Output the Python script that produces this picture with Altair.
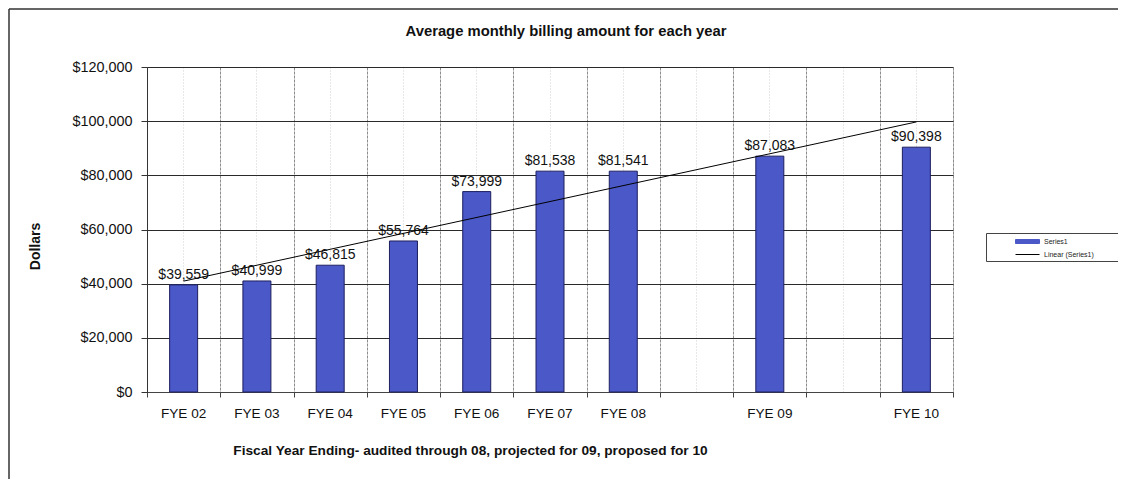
import altair as alt
import pandas as pd

FONT = "Liberation Sans"

# ---- data ----
categories = ["FYE 02", "FYE 03", "FYE 04", "FYE 05", "FYE 06", "FYE 07", "FYE 08", "FYE 09", "FYE 10"]
values = [39559, 40999, 46815, 55764, 73999, 81538, 81541, 87083, 90398]
slot_index = [0, 1, 2, 3, 4, 5, 6, 8, 10]          # category slot on the axis (blank slots between 08/09/10)
axis_slots = ["FYE 02", "FYE 03", "FYE 04", "FYE 05", "FYE 06", "FYE 07", "FYE 08", " ", "FYE 09", "  ", "FYE 10"]
slot_edges = [-0.5, 0.5, 1.5, 2.5, 3.5, 4.5, 5.5, 6.5, 7.5, 8.5, 9.5, 10.5]
y_ticks = [0, 20000, 40000, 60000, 80000, 100000, 120000]
series_names = ["Series1", "Linear (Series1)"]

df = pd.DataFrame({"cat": categories, "value": values, "pos": slot_index, "series": series_names[0]})

W, H = 806, 325
PAD_L, PAD_T = 139, 59
TOTAL_W, TOTAL_H = 1110, 471

BAR_FILL = "#4a58c8"
BAR_STROKE = "#1d1f5e"

color_scale = alt.Scale(domain=series_names, range=[BAR_FILL, "#000000"])
legend = alt.Legend(
    title=" ", titleOrient="right", titlePadding=24, titleFontSize=6,
    orient="none", legendX=839, legendY=166,
    strokeColor="#444444", padding=3, fillColor="white",
    labelFont=FONT, labelFontSize=7, labelColor="#222222",
    symbolSize=100, symbolOffset=33, labelOffset=11, rowPadding=3,
    symbolStrokeWidth=1,
    symbolType={"expr": "datum.value === 'Series1' ? 'M-2.4,-0.4H2.4V0.4H-2.4Z' : 'M-2.4,0H2.4'"},
)

x_band = alt.X(
    "cat:N",
    scale=alt.Scale(domain=axis_slots, paddingInner=0, paddingOuter=0),
    sort=axis_slots,
    axis=alt.Axis(
        orient="bottom",
        title="Fiscal Year Ending- audited through 08, projected for 09, proposed for 10",
        titleFont=FONT, titleFontSize=13.7, titleFontWeight="bold", titleColor="#111111",
        titleX=323, titleY=62, titleAlign="center", titleBaseline="alphabetic",
        labelFont=FONT, labelFontSize=13.6, labelColor="#111111", labelAngle=0, labelPadding=14,
        ticks=False, domain=False,
        grid=True, gridColor="#d0d0d0", gridDash=[1, 2], gridWidth=1,
    ),
)

y_enc = alt.Y(
    "value:Q",
    scale=alt.Scale(domain=[0, 120000], nice=False),
    axis=alt.Axis(
        values=y_ticks, format="$,d",
        title="Dollars", titleFont=FONT, titleFontSize=14, titleFontWeight="bold", titleColor="#111111",
        titleAngle=-90, titleX=-112, titleY=179, titleAlign="center", titleBaseline="middle",
        labelFont=FONT, labelFontSize=14.4, labelColor="#111111", labelPadding=9,
        tickSize=6, tickColor="#333333", domainColor="#333333",
        grid=True, gridColor="#2a2a2a", gridWidth=1,
    ),
)

bars = alt.Chart(df).mark_bar(size=28, stroke=BAR_STROKE, strokeWidth=1).encode(
    x=x_band,
    y=y_enc,
    color=alt.Color("series:N", scale=color_scale, legend=legend),
)

labels = alt.Chart(df).mark_text(
    font=FONT, fontSize=14, color="#111111", baseline="alphabetic", dy=-6
).encode(
    x=alt.X("cat:N", sort=axis_slots),
    y="value:Q",
    text=alt.Text("value:Q", format="$,d"),
)

band_layer = alt.layer(bars, labels)

trend = alt.Chart(df).transform_regression("pos", "value").transform_calculate(
    series="'Linear (Series1)'"
).mark_line(strokeWidth=1).encode(
    x=alt.X(
        "pos:Q",
        scale=alt.Scale(domain=[-0.5, 10.5], nice=False, zero=False),
        axis=alt.Axis(
            orient="bottom", values=slot_edges, labels=False, title=None,
            ticks=True, tickSize=5, tickColor="#444444", domainColor="#444444",
            grid=True, gridColor="#8c8c8c", gridDash=[3, 1], gridWidth=1,
        ),
    ),
    y=alt.Y("value:Q"),
    color=alt.Color("series:N", scale=color_scale, legend=legend),
)

frame_df = pd.DataFrame({"a": [0]})
frame_left = alt.Chart(frame_df).mark_rule(color="#333333", strokeWidth=1.5).encode(
    x=alt.value(-PAD_L + 1), y=alt.value(-PAD_T + 1), y2=alt.value(TOTAL_H - PAD_T)
)
frame_top = alt.Chart(frame_df).mark_rule(color="#333333", strokeWidth=1.5).encode(
    x=alt.value(-PAD_L + 1), x2=alt.value(TOTAL_W - PAD_L), y=alt.value(-PAD_T + 1)
)

chart = alt.layer(band_layer, trend, frame_left, frame_top).resolve_scale(x="independent").properties(
    width=W, height=H,
    padding={"left": PAD_L, "top": PAD_T, "right": TOTAL_W - PAD_L - W, "bottom": TOTAL_H - PAD_T - H},
    autosize=alt.AutoSizeParams(type="none"),
    title=alt.TitleParams(
        "Average monthly billing amount for each year",
        font=FONT, fontSize=14.8, fontWeight="bold", color="#111111",
        anchor="middle", dx=16, offset=0, dy=31,
    ),
).configure_view(stroke="#555555", strokeWidth=1).configure(background="white")

chart.save("out.html", embed_options={"renderer": "svg", "actions": False})
